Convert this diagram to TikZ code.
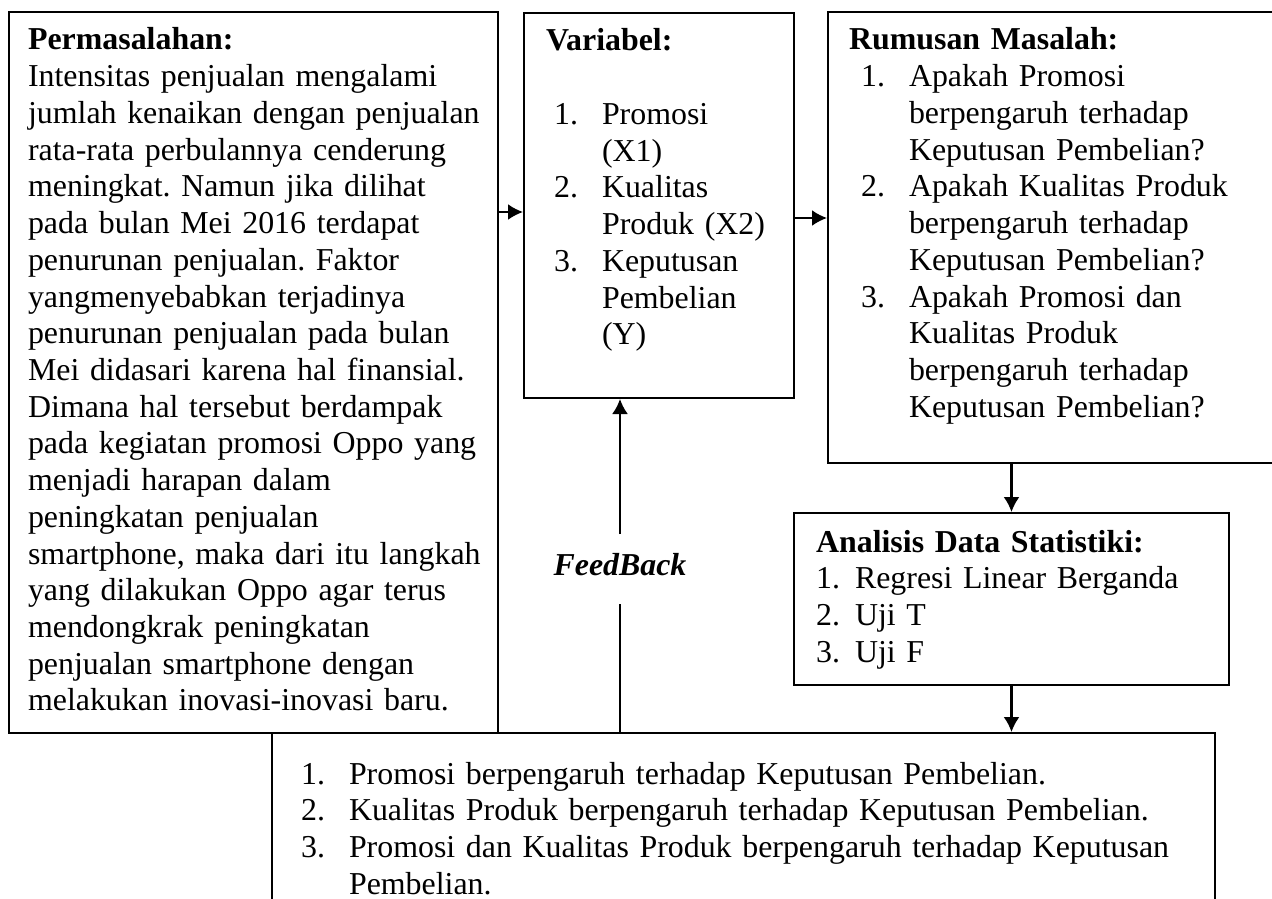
\documentclass[tikz,border=0pt]{standalone}
\usepackage{fontspec}
\setmainfont{Liberation Serif}
\usetikzlibrary{arrows.meta}
\frenchspacing

\newcommand{\listnum}[2][0.96cm]{\makebox[#1][l]{#2}}
\newcommand{\skipnum}[1][0.96cm]{\hspace*{#1}}

\begin{document}
\begin{tikzpicture}[x=0.02cm,y=-0.02cm,line width=1.2pt,
	frame/.style={draw,anchor=north west,inner sep=0pt},
	body/.style={anchor=base west,inner sep=0pt,align=left,
		font=\fontsize{18.15pt}{20.9pt}\selectfont},
	arr/.style={-{Latex[length=0.3cm,width=0.32cm]}}]
	
	\useasboundingbox (0,0) rectangle (1272,899);
	
	% Permasalahan
	\node[frame,minimum width=9.78cm,minimum height=14.42cm] (perm) at (8,11) {};
	\node[body,text width=9.4cm] (permtext) at (27,50) {\textbf{Permasalahan:}\\
		Intensitas penjualan mengalami\\
		jumlah kenaikan dengan penjualan\\
		rata-rata perbulannya cenderung\\
		meningkat. Namun jika dilihat\\
		pada bulan Mei 2016 terdapat\\
		penurunan penjualan. Faktor\\
		yangmenyebabkan terjadinya\\
		penurunan penjualan pada bulan\\
		Mei didasari karena hal finansial.\\
		Dimana hal tersebut berdampak\\
		pada kegiatan promosi Oppo yang\\
		menjadi harapan dalam\\
		peningkatan penjualan\\
		smartphone, maka dari itu langkah\\
		yang dilakukan Oppo agar terus\\
		mendongkrak peningkatan\\
		penjualan smartphone dengan\\
		melakukan inovasi-inovasi baru.};
	
	% Variabel
	\node[frame,minimum width=5.4cm,minimum height=7.7cm] (var) at (523,12) {};
	\node[body,text width=4.7cm] (vartext) at (553,51) {\hspace*{-0.16cm}\textbf{Variabel:}\\[0.734cm]
		\listnum{1.}Promosi\\
		\skipnum(X1)\\
		\listnum{2.}Kualitas\\
		\skipnum Produk (X2)\\
		\listnum{3.}Keputusan\\
		\skipnum Pembelian\\
		\skipnum(Y)};
	
	% Rumusan masalah
	\node[frame,minimum width=10cm,minimum height=9.02cm] (rumus) at (827,11) {};
	\node[body,text width=8cm] (rumustext) at (860,50) {\hspace*{-0.24cm}\textbf{Rumusan Masalah:}\\
		\listnum{1.}Apakah Promosi\\
		\skipnum berpengaruh terhadap\\
		\skipnum Keputusan Pembelian?\\
		\listnum{2.}Apakah Kualitas Produk\\
		\skipnum berpengaruh terhadap\\
		\skipnum Keputusan Pembelian?\\
		\listnum{3.}Apakah Promosi dan\\
		\skipnum Kualitas Produk\\
		\skipnum berpengaruh terhadap\\
		\skipnum Keputusan Pembelian?};
	
	% Analisis data
	\node[frame,minimum width=8.7cm,minimum height=3.44cm] (anal) at (793,512) {};
	\node[body,text width=8cm] (analtext) at (815,552) {\textbf{Analisis Data Statistiki:}\\
		\listnum[0.78cm]{1.}Regresi Linear Berganda\\
		\listnum[0.78cm]{2.}Uji T\\
		\listnum[0.78cm]{3.}Uji F};
	
	% Hasil
	\node[frame,minimum width=18.86cm,minimum height=3.8cm] (hasil) at (271,732) {};
	\node[body,text width=18cm] (hasiltext) at (300,784) {\listnum{1.}Promosi berpengaruh terhadap Keputusan Pembelian.\\
		\listnum{2.}Kualitas Produk berpengaruh terhadap Keputusan Pembelian.\\
		\listnum{3.}Promosi dan Kualitas Produk berpengaruh terhadap Keputusan\\
		\skipnum Pembelian.};
	
	% Arrows
	\draw[arr] (perm.east |- 0,212) -- (var.west |- 0,212);
	\draw[arr] (var.east |- 0,218) -- (rumus.west |- 0,218);
	\draw[arr] (anal.north |- rumus.south) -- (anal.north);
	\draw[arr] (anal.south) -- (anal.south |- hasil.north);
	
	% Feedback
	\node[body,anchor=base,font=\fontsize{18.15pt}{20.9pt}\selectfont\bfseries\itshape] (fb) at (620,575) {FeedBack};
	\draw (hasil.north -| fb) -- ([yshift=-0.58cm]fb.base);
	\draw[arr] ([yshift=0.82cm]fb.base) -- (var.south -| fb);
	
\end{tikzpicture}
\end{document}
